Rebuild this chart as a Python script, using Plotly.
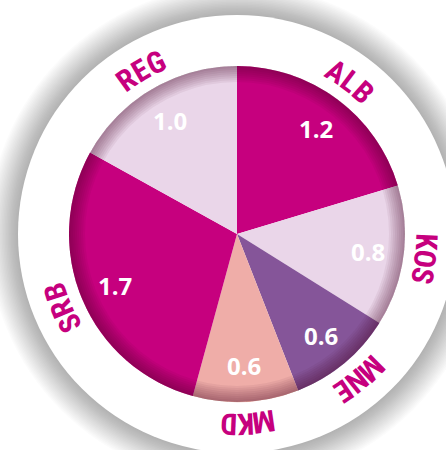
import math
import plotly.graph_objects as go

# Data
regions = ["ALB", "KOS", "MNE", "MKD", "SRB", "REG"]
values = [1.2, 0.8, 0.6, 0.6, 1.7, 1.0]
value_labels = ["1.2", "0.8", "0.6", "0.6", "1.7", "1.0"]
slice_colors = ["#C6007E", "#EAD6E9", "#855599", "#EFADA8", "#C6007E", "#EAD6E9"]

# Geometry (pixels, y measured from top)
W, H = 446, 450
CX, CY = 237, 234
R_PIE = 168
R_RING = 219
R_LABEL = 190
R_VALUE = 132
MAGENTA = "#C6007E"
LABEL_FONT = ("Liberation Sans Narrow, Roboto Condensed, Open Sans Condensed, "
              "DejaVu Sans Condensed, Roboto, sans-serif")


def px(x):
    return x / W


def py(y):
    return (H - y) / H


def circle(r, **kw):
    return dict(type="circle", xref="paper", yref="paper",
                x0=px(CX - r), x1=px(CX + r), y0=py(CY + r), y1=py(CY - r), **kw)


fig = go.Figure(go.Pie(
    labels=regions,
    values=values,
    sort=False,
    direction="clockwise",
    rotation=0,
    marker=dict(colors=slice_colors, line=dict(width=0)),
    textinfo="none",
    hoverinfo="label+value",
    showlegend=False,
    domain=dict(x=[px(CX - R_PIE), px(CX + R_PIE)],
                y=[py(CY + R_PIE), py(CY - R_PIE)]),
))

shapes = []
# soft drop shadow around the white ring
for k in range(1, 21):
    shapes.append(circle(R_RING + k * 1.5, fillcolor="rgba(0,0,0,0.016)",
                         line=dict(width=0), layer="below"))
# white ring
shapes.append(circle(R_RING, fillcolor="white", line=dict(width=0), layer="below"))
# darkened rim on the pie
for k in range(1, 9):
    w = 2 * k
    shapes.append(circle(R_PIE - w / 2, fillcolor="rgba(0,0,0,0)",
                         line=dict(color="rgba(60,0,40,0.06)", width=w), layer="above"))

annotations = []
total = sum(values)
cum = 0.0
letter_w = {"M": 20}
for name, v, lab in zip(regions, values, value_labels):
    mid = (cum + v / 2) / total * 2 * math.pi
    cum += v
    # value inside the slice
    annotations.append(dict(
        x=px(CX + R_VALUE * math.sin(mid)), y=py(CY - R_VALUE * math.cos(mid)),
        xref="paper", yref="paper", xanchor="center", yanchor="middle",
        text=f"<b>{lab}</b>", showarrow=False,
        font=dict(family="Open Sans, Lato, sans-serif", size=24, color="white"),
    ))
    # region name set along the ring, one letter at a time
    widths = [letter_w.get(ch, 17) for ch in name]
    offset = -sum(widths) / 2
    for ch, wd in zip(name, widths):
        phi = mid + (offset + wd / 2) / R_LABEL
        offset += wd
        annotations.append(dict(
            x=px(CX + R_LABEL * math.sin(phi)), y=py(CY - R_LABEL * math.cos(phi)),
            xref="paper", yref="paper", xanchor="center", yanchor="middle",
            text=f"<b>{ch}</b>", showarrow=False, textangle=math.degrees(phi),
            font=dict(family=LABEL_FONT, size=30, color=MAGENTA),
        ))

fig.update_layout(
    width=W, height=H,
    margin=dict(l=0, r=0, t=0, b=0),
    paper_bgcolor="white",
    plot_bgcolor="white",
    shapes=shapes,
    annotations=annotations,
)

fig.write_html("out.html")
